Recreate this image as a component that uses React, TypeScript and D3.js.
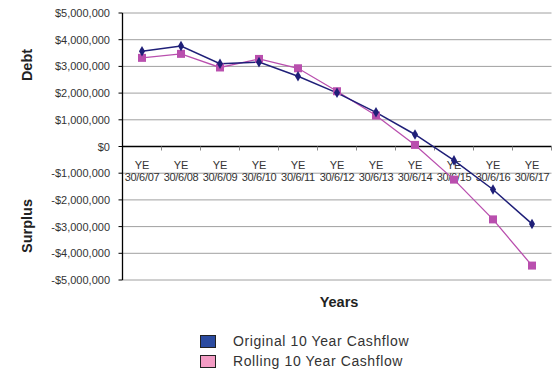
import React from "react";
import * as d3 from "d3";

const categories = ["30/6/07","30/6/08","30/6/09","30/6/10","30/6/11","30/6/12","30/6/13","30/6/14","30/6/15","30/6/16","30/6/17"];
const original = [3570000,3760000,3100000,3160000,2630000,2010000,1280000,450000,-520000,-1610000,-2900000];
const rolling = [3320000,3470000,2960000,3280000,2930000,2070000,1160000,60000,-1240000,-2730000,-4460000];
const yTicks = [5000000,4000000,3000000,2000000,1000000,0,-1000000,-2000000,-3000000,-4000000,-5000000];
const seriesNames = ["Original 10 Year Cashflow","Rolling 10 Year Cashflow"];

const W = 560, H = 374;
const left = 122.5, right = 551.5, top = 13, bottom = 280;

function fmt(v: number) {
  const s = "$" + d3.format(",")(Math.abs(v));
  return v < 0 ? "-" + s : s;
}

export default function App() {
  const x = d3.scaleBand().domain(categories).range([left, right]).paddingInner(0).paddingOuter(0);
  const y = d3.scaleLinear().domain([-5000000, 5000000]).range([bottom, top]);
  const cx = (c: string) => (x(c) as number) + x.bandwidth() / 2;
  const line = d3.line<number>().x((_, i) => cx(categories[i])).y(d => y(d));
  const navy = "#1f1f78";
  const pink = "#b94fae";
  const font = "Arial, 'Liberation Sans', sans-serif";
  return (
    <svg width={W} height={H} style={{ position: "absolute", left: 0, top: 0 }} fontFamily={font}>
      <rect width={W} height={H} fill="#fff" />
      {yTicks.map(t => (
        <g key={t}>
          {t !== 0 && <line x1={left} x2={right} y1={y(t)} y2={y(t)} stroke="#a0a0a0" strokeWidth={1} />}
          <text x={110} y={y(t) + 4} textAnchor="end" fontSize={11} fill="#333">{fmt(t)}</text>
          <line x1={left - 4} x2={left} y1={y(t)} y2={y(t)} stroke="#000" />
        </g>
      ))}
      <line x1={left} x2={left} y1={top} y2={bottom} stroke="#000" strokeWidth={1.3} />
      <line x1={left} x2={right} y1={y(0)} y2={y(0)} stroke="#000" strokeWidth={1.3} />
      {categories.map((c, i) => (
        <g key={c}>
          <line x1={(x(c) as number) + x.bandwidth()} x2={(x(c) as number) + x.bandwidth()} y1={y(0)} y2={y(0) + 4} stroke="#888" />
          <text x={cx(c)} y={y(0) + 22} textAnchor="middle" fontSize={11} fill="#333">YE</text>
          <text x={cx(c)} y={y(0) + 34} textAnchor="middle" fontSize={11} fill="#333" letterSpacing={-0.3}>{c}</text>
        </g>
      ))}
      <path d={line(rolling) || ""} fill="none" stroke={pink} strokeWidth={1.3} />
      <path d={line(original) || ""} fill="none" stroke={navy} strokeWidth={1.5} />
      {rolling.map((v, i) => (
        <rect key={"r" + i} x={cx(categories[i]) - 4} y={y(v) - 4} width={8} height={8} fill={pink} />
      ))}
      {original.map((v, i) => (
        <path key={"o" + i} d={d3.symbol(d3.symbolDiamond, 32)() || ""} transform={`translate(${cx(categories[i])},${y(v)})`} fill={navy} />
      ))}
      <text transform={`translate(32,65) rotate(-90)`} textAnchor="middle" fontSize={14.5} fontWeight="bold" fill="#222">Debt</text>
      <text transform={`translate(32,226) rotate(-90)`} textAnchor="middle" fontSize={14.5} fontWeight="bold" fill="#222">Surplus</text>
      <text x={339} y={307} textAnchor="middle" fontSize={14.5} fontWeight="bold" fill="#222">Years</text>
      <rect x={200.5} y={335.5} width={15} height={12} fill="#2b4ba0" stroke="#222" />
      <rect x={200.5} y={355.5} width={15} height={12} fill="#f39cc4" stroke="#222" />
      <text x={233} y={346} fontSize={14} fill="#333" letterSpacing={0.6}>{seriesNames[0]}</text>
      <text x={233} y={366} fontSize={14} fill="#333" letterSpacing={0.6}>{seriesNames[1]}</text>
    </svg>
  );
}
